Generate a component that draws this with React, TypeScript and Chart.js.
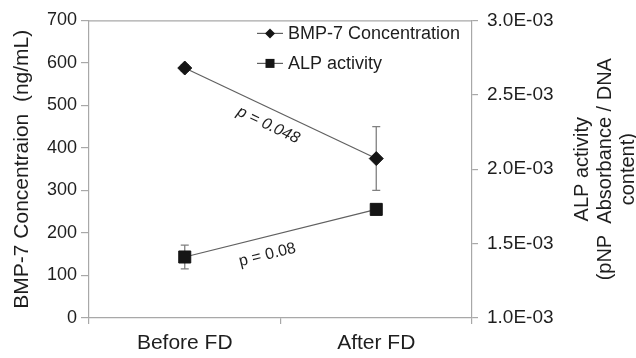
import React, { useEffect, useRef } from 'react';
import { Chart, registerables } from 'chart.js';

Chart.register(...registerables);

const categories = ['Before FD', 'After FD'];
const bmpValues = [588, 375];
const bmpErrors = [8, 75];
const alpValues = [1.41e-3, 1.73e-3];
const alpErrors = [0.08e-3, 0];
const rightTickLabels = ['1.0E-03', '1.5E-03', '2.0E-03', '2.5E-03', '3.0E-03'];
const bmpLabel = 'BMP-7 Concentration';
const alpLabel = 'ALP activity';
const leftTitle = 'BMP-7 Concentraion  (ng/mL)';
const rightTitleLines = ['ALP activity', '(pNP  Absorbance / DNA', 'content)'];
const pLabels = ['p = 0.048', 'p = 0.08'];

const FONT = "'Liberation Sans', Arial, sans-serif";
const TEXT = '#1e1e1e';
const AXIS = '#a8a8a8';
const LINE = '#606060';
const MARK = '#151515';

function drawDiamond(ctx: CanvasRenderingContext2D, x: number, y: number, r: number) {
  ctx.beginPath();
  ctx.moveTo(x, y - r);
  ctx.lineTo(x + r, y);
  ctx.lineTo(x, y + r);
  ctx.lineTo(x - r, y);
  ctx.closePath();
  ctx.fill();
}

const customPlugin = {
  id: 'custom',
  beforeDatasetsDraw(chart: any) {
    const ctx = chart.ctx as CanvasRenderingContext2D;
    const x = chart.scales.x;
    const y = chart.scales.y;
    const y1 = chart.scales.y1;
    ctx.save();
    ctx.strokeStyle = '#808080';
    ctx.lineWidth = 1.3;
    const bars = [
      { vals: bmpValues, errs: bmpErrors, sc: y },
      { vals: alpValues, errs: alpErrors, sc: y1 },
    ];
    bars.forEach(({ vals, errs, sc }) => {
      vals.forEach((v, i) => {
        if (!errs[i]) return;
        const px = x.getPixelForValue(i);
        const top = sc.getPixelForValue(v + errs[i]);
        const bot = sc.getPixelForValue(v - errs[i]);
        ctx.beginPath();
        ctx.moveTo(px, top);
        ctx.lineTo(px, bot);
        ctx.moveTo(px - 4, top);
        ctx.lineTo(px + 4, top);
        ctx.moveTo(px - 4, bot);
        ctx.lineTo(px + 4, bot);
        ctx.stroke();
      });
    });
    ctx.restore();
  },
  afterDraw(chart: any) {
    const ctx = chart.ctx as CanvasRenderingContext2D;
    const area = chart.chartArea;
    const x = chart.scales.x;
    const y = chart.scales.y;
    const y1 = chart.scales.y1;
    ctx.save();
    // top border
    ctx.strokeStyle = AXIS;
    ctx.lineWidth = 1.2;
    ctx.beginPath();
    ctx.moveTo(area.left, area.top + 0.5);
    ctx.lineTo(area.right, area.top + 0.5);
    ctx.stroke();

    // legend
    const lx = area.left + 168;
    const rows = [
      { label: bmpLabel, y: area.top + 13, type: 'diamond' },
      { label: alpLabel, y: area.top + 43, type: 'square' },
    ];
    rows.forEach((r) => {
      ctx.strokeStyle = LINE;
      ctx.lineWidth = 1.2;
      ctx.beginPath();
      ctx.moveTo(lx, r.y);
      ctx.lineTo(lx + 26, r.y);
      ctx.stroke();
      ctx.fillStyle = MARK;
      if (r.type === 'diamond') drawDiamond(ctx, lx + 13, r.y, 5);
      else ctx.fillRect(lx + 13 - 4.5, r.y - 4.5, 9, 9);
      ctx.fillStyle = TEXT;
      ctx.font = `18px ${FONT}`;
      ctx.textAlign = 'left';
      ctx.textBaseline = 'middle';
      ctx.fillText(r.label, lx + 31, r.y + 1);
    });

    // p-value annotations
    const series = [
      { vals: bmpValues, sc: y, d: 16, t: -6, italic: true },
      { vals: alpValues, sc: y1, d: 18, t: -18, italic: false },
    ];
    series.forEach((s, k) => {
      const x0 = x.getPixelForValue(0), x1 = x.getPixelForValue(1);
      const p0 = s.sc.getPixelForValue(s.vals[0]), p1 = s.sc.getPixelForValue(s.vals[1]);
      const ang = Math.atan2(p1 - p0, x1 - x0);
      const ux = Math.cos(ang), uy = Math.sin(ang);
      const nx = -Math.sin(ang), ny = Math.cos(ang);
      const cx = (x0 + x1) / 2 + ux * s.t + nx * s.d;
      const cy = (p0 + p1) / 2 + uy * s.t + ny * s.d;
      ctx.save();
      ctx.translate(cx, cy);
      ctx.rotate(ang);
      ctx.fillStyle = TEXT;
      ctx.font = `${s.italic ? 'italic ' : ''}16px ${FONT}`;
      ctx.textAlign = 'center';
      ctx.textBaseline = 'middle';
      ctx.fillText(pLabels[k], 0, 0);
      ctx.restore();
    });

    // axis titles
    const midY = (area.top + area.bottom) / 2;
    ctx.fillStyle = TEXT;
    ctx.textAlign = 'center';
    ctx.textBaseline = 'middle';
    ctx.save();
    ctx.translate(22, midY);
    ctx.rotate(-Math.PI / 2);
    ctx.font = `21px ${FONT}`;
    ctx.fillText(leftTitle, 0, 0);
    ctx.restore();

    ctx.save();
    ctx.translate(area.right + 110, midY);
    ctx.rotate(-Math.PI / 2);
    ctx.font = `20px ${FONT}`;
    rightTitleLines.forEach((line, i) => {
      ctx.fillText(line, 0, i * 23);
    });
    ctx.restore();
    ctx.restore();
  },
};

export default function App() {
  const ref = useRef<HTMLCanvasElement | null>(null);
  useEffect(() => {
    if (!ref.current) return;
    const chart = new Chart(ref.current, {
      type: 'line',
      data: {
        labels: categories,
        datasets: [
          {
            label: bmpLabel,
            data: bmpValues,
            yAxisID: 'y',
            borderColor: LINE,
            borderWidth: 1.2,
            pointStyle: 'rectRot',
            pointRadius: 7,
            pointBackgroundColor: MARK,
            pointBorderColor: MARK,
            pointBorderWidth: 1,
          },
          {
            label: alpLabel,
            data: alpValues,
            yAxisID: 'y1',
            borderColor: LINE,
            borderWidth: 1.2,
            pointStyle: 'rect',
            pointRadius: 8.5,
            pointBackgroundColor: MARK,
            pointBorderColor: MARK,
            pointBorderWidth: 1,
          },
        ],
      },
      options: {
        animation: false,
        responsive: true,
        maintainAspectRatio: false,
        layout: { padding: { top: 17, left: 0, right: 0, bottom: 0 } },
        plugins: { legend: { display: false }, tooltip: { enabled: false } },
        scales: {
          x: {
            type: 'category',
            offset: true,
            grid: { display: true, drawOnChartArea: false, offset: true, tickLength: 6, color: AXIS, lineWidth: 1.2 },
            border: { color: AXIS, width: 1.2 },
            ticks: { color: TEXT, font: { family: FONT, size: 21 }, padding: 7 },
            afterFit: (s: any) => { s.height = 40; },
          },
          y: {
            position: 'left',
            min: 0,
            max: 700,
            ticks: { stepSize: 100, color: TEXT, font: { family: FONT, size: 18 }, padding: 4 },
            grid: { display: true, drawOnChartArea: false, tickLength: 8, color: AXIS, lineWidth: 1.2 },
            border: { color: AXIS, width: 1.2 },
            afterFit: (s: any) => { s.width = 89; },
          },
          y1: {
            position: 'right',
            min: 1e-3,
            max: 3e-3,
            ticks: {
              stepSize: 0.5e-3,
              color: TEXT,
              font: { family: FONT, size: 19 },
              padding: 9,
              callback: (_v: any, i: number) => rightTickLabels[i],
            },
            grid: { display: true, drawOnChartArea: false, tickLength: 6, color: AXIS, lineWidth: 1.2 },
            border: { color: AXIS, width: 1.2 },
            afterFit: (s: any) => { s.width = 164; },
          },
        },
      },
      plugins: [customPlugin],
    } as any);
    return () => chart.destroy();
  }, []);
  return (
    <div style={{ position: 'fixed', left: 0, top: 0, width: 636, height: 358, background: '#fff' }}>
      <canvas ref={ref} />
    </div>
  );
}
